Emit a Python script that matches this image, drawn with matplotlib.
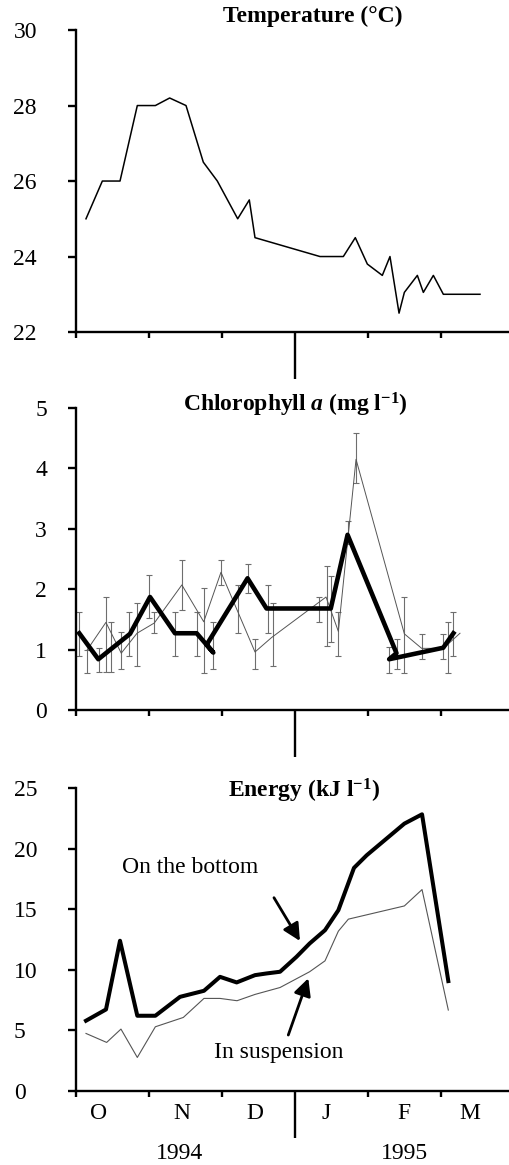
import matplotlib
matplotlib.use('Agg')
import matplotlib.pyplot as plt
import matplotlib.transforms as mtransforms
import numpy as np

plt.rcParams['font.family'] = ['Liberation Serif', 'DejaVu Serif']
plt.rcParams['mathtext.fontset'] = 'custom'
plt.rcParams['mathtext.rm'] = 'Liberation Serif:bold'
plt.rcParams['mathtext.it'] = 'Liberation Serif:italic:bold'
plt.rcParams['mathtext.bf'] = 'Liberation Serif:bold'

# time axis in months since 1 Oct 1994
temp_t = [0.137, 0.361, 0.603, 0.840, 1.087, 1.283, 1.507, 1.744, 1.936, 2.215, 2.374, 2.452,
          3.342, 3.662, 3.826, 3.991, 4.196, 4.301, 4.425, 4.498, 4.676, 4.758, 4.895, 5.032, 5.534]
temp_v = [25.0, 26.0, 26.0, 28.0, 28.0, 28.2, 28.0, 26.5, 26.0, 25.0, 25.5, 24.5,
          24.0, 24.0, 24.5, 23.8, 23.5, 24.0, 22.5, 23.05, 23.5, 23.05, 23.5, 23.0, 23.0]

# chlorophyll, thick series (sampling not in time order, as in the original)
chl_thick_t = [0.045, 0.306, 0.74, 1.014, 1.356, 1.653, 1.881, 1.79, 2.35, 2.61, 3.49, 3.72,
               4.39, 4.29, 5.03, 5.17]
chl_thick_v = [1.27, 0.84, 1.26, 1.87, 1.27, 1.27, 0.95, 1.08, 2.18, 1.68, 1.68, 2.90,
               0.94, 0.84, 1.03, 1.27]
chl_thin_t = [0.151, 0.41, 0.62, 0.836, 1.073, 1.45, 1.75, 1.986, 2.452, 2.68, 3.425, 3.594,
              3.836, 4.498, 4.735, 5.032, 5.26]
chl_thin_v = [0.99, 1.45, 0.94, 1.27, 1.44, 2.07, 1.46, 2.28, 0.96, 1.20, 1.87, 1.30,
              4.15, 1.26, 1.02, 1.02, 1.27]
# error bars: position, upper, lower
err_t = [0.045, 0.151, 0.311, 0.416, 0.484, 0.62, 0.731, 0.836, 1.005, 1.075, 1.35, 1.455,
         1.653, 1.76, 1.87, 1.986, 2.22, 2.35, 2.452, 2.635, 2.70, 3.329, 3.434, 3.493,
         3.594, 3.72, 3.836, 4.29, 4.402, 4.498, 4.735, 5.032, 5.1, 5.17]
err_hi = [1.62, 1.0, 1.03, 1.87, 1.45, 1.29, 1.62, 1.77, 2.24, 1.63, 1.63, 2.49,
          1.62, 2.02, 1.45, 2.48, 2.07, 2.42, 1.17, 2.07, 1.77, 1.87, 2.38, 2.21,
          1.62, 3.13, 4.59, 1.04, 1.17, 1.87, 1.26, 1.26, 1.45, 1.62]
err_lo = [0.90, 0.62, 0.63, 0.63, 0.63, 0.68, 0.90, 0.73, 1.52, 1.27, 0.90, 1.65,
          0.90, 0.62, 0.67, 2.07, 1.27, 1.93, 0.68, 1.27, 0.73, 1.46, 1.06, 1.12,
          0.90, 2.75, 3.75, 0.62, 0.67, 0.62, 0.84, 0.84, 0.62, 0.90]

# energy
bot_t = [0.137, 0.411, 0.603, 0.840, 1.087, 1.425, 1.753, 1.973, 2.201, 2.452, 2.61, 2.795,
         3.02, 3.2, 3.411, 3.594, 3.808, 3.982, 4.498, 4.740, 5.1]
bot_v = [5.8, 6.73, 12.4, 6.21, 6.21, 7.77, 8.27, 9.42, 8.96, 9.56, 9.70, 9.84,
         11.07, 12.17, 13.27, 14.92, 18.41, 19.45, 22.06, 22.83, 9.07]
susp_t = [0.137, 0.42, 0.616, 0.840, 1.087, 1.47, 1.753, 1.973, 2.206, 2.452, 2.795,
          3.2, 3.411, 3.594, 3.731, 4.498, 4.740, 5.1]
susp_v = [4.75, 4.01, 5.11, 2.77, 5.30, 6.07, 7.64, 7.64, 7.45, 7.97, 8.54,
          9.84, 10.74, 13.19, 14.18, 15.27, 16.62, 6.68]

months = ['O', 'N', 'D', 'J', 'F', 'M']
month_pos = [0.315, 1.452, 2.452, 3.425, 4.493, 5.397]
years = ['1994', '1995']
year_pos = [1.42, 4.5]

FS = 17
fig = plt.figure(figsize=(5.1, 11.65), dpi=100)

def setup(ax, ylim, yticks, pad, ha='right'):
    ax.set_xlim(0, 5.945)
    ax.set_ylim(*ylim)
    for s in ['top', 'right']:
        ax.spines[s].set_visible(False)
    for s in ['left', 'bottom']:
        ax.spines[s].set_linewidth(1.7)
    ax.set_yticks(yticks)
    ax.tick_params(axis='y', length=5.8, width=1.7, pad=pad, labelsize=FS)
    for lab in ax.get_yticklabels():
        lab.set_ha(ha)
    ax.set_xticks([0, 1, 2, 4, 5])
    ax.set_xticklabels([])
    ax.set_xticks([3], minor=True)
    ax.tick_params(axis='x', which='major', length=4.5, width=1.7)
    ax.tick_params(axis='x', which='minor', length=34, width=1.7)

ax1 = fig.add_axes([0.149, 0.715, 0.851, 0.2592])
setup(ax1, (22, 30), [22, 24, 26, 28, 30], 22.3)
ax1.plot(temp_t, temp_v, color='black', lw=1.1)
ax1.text(0.545, 1.045, 'Temperature (°C)', transform=ax1.transAxes, ha='center',
         va='center', fontsize=FS, fontweight='bold')

ax2 = fig.add_axes([0.149, 0.3906, 0.851, 0.2592])
setup(ax2, (0, 5), [0, 1, 2, 3, 4, 5], 15)
err_t = np.array(err_t)
hi = np.array(err_hi)
lo = np.array(err_lo)
ax2.errorbar(err_t, (hi + lo) / 2, yerr=(hi - lo) / 2, fmt='none', ecolor='#6e6e6e',
             elinewidth=0.8, capsize=2.2, capthick=0.8, clip_on=False)
ax2.plot(chl_thin_t, chl_thin_v, color='#555555', lw=0.7)
ax2.plot(chl_thick_t, chl_thick_v, color='black', lw=3.3)
ax2.text(0.505, 1.01, r'Chlorophyll $a$ (mg l$^{-1}$)', transform=ax2.transAxes,
         ha='center', va='center', fontsize=FS, fontweight='bold')

ax3 = fig.add_axes([0.149, 0.0635, 0.851, 0.2601])
setup(ax3, (0, 25), [0, 5, 10, 15, 20, 25], 39, ha='left')
ax3.plot(susp_t, susp_v, color='#555555', lw=0.8)
ax3.plot(bot_t, bot_v, color='black', lw=2.9)
ax3.text(0.525, 0.99, r'Energy (kJ l$^{-1}$)', transform=ax3.transAxes,
         ha='center', va='center', fontsize=FS, fontweight='bold')

arrow = dict(arrowstyle='-|>', color='black', lw=2, mutation_scale=26, shrinkA=0, shrinkB=0)
ax3.annotate('', xy=(3.068, 12.38), xytext=(2.712, 15.95), arrowprops=arrow)
ax3.text(1.56, 18.48, 'On the bottom', fontsize=FS, ha='center', va='center')
ax3.annotate('', xy=(3.182, 9.30), xytext=(2.908, 4.62), arrowprops=arrow)
ax3.text(2.78, 3.14, 'In suspension', fontsize=FS, ha='center', va='center')

trans = mtransforms.blended_transform_factory(ax3.transData, ax3.transAxes)
for m, p in zip(months, month_pos):
    ax3.text(p, -0.073, m, transform=trans, ha='center', va='center', fontsize=FS)
for y, p in zip(years, year_pos):
    ax3.text(p, -0.205, y, transform=trans, ha='center', va='center', fontsize=FS)

fig.savefig('out.png', dpi=100)
